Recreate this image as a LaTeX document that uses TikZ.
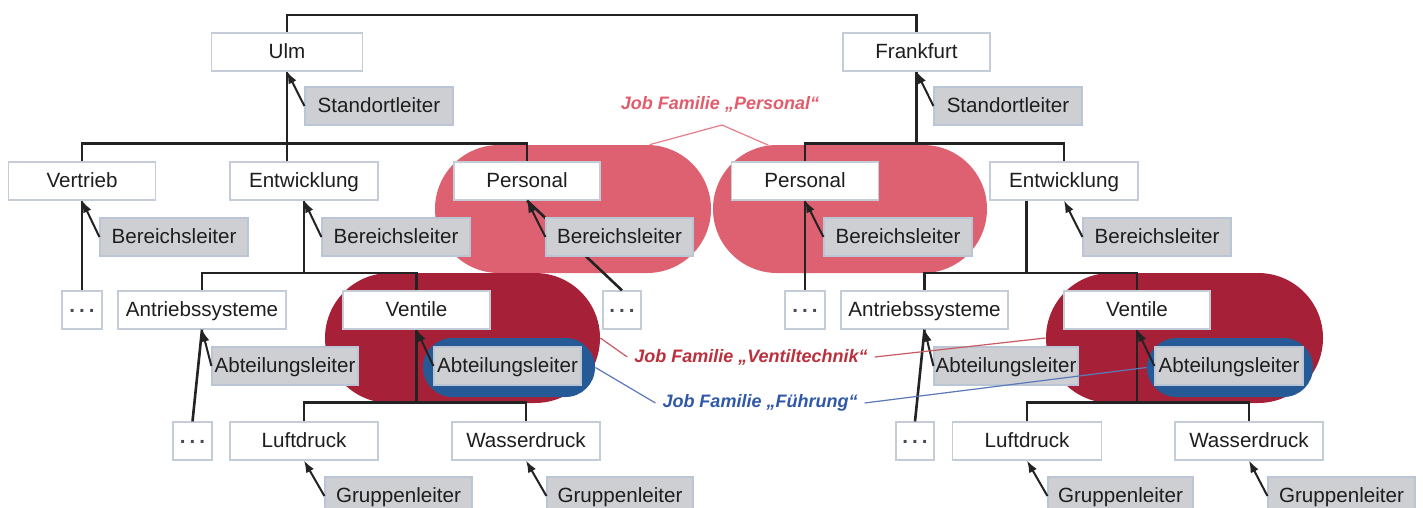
\documentclass[tikz,border=0pt]{standalone}
\usepackage{fontspec}
\setmainfont{Liberation Sans}
\usetikzlibrary{calc,arrows.meta,shapes.misc}
\newcommand\unitfont{\fontsize{10.3}{12}\selectfont}
\newcommand\famfont{\fontsize{9}{11}\selectfont\bfseries\itshape}
\newcommand\tridots{\raisebox{2pt}{\bfseries .\kern2pt.\kern2pt.}}
\tikzset{
  unit/.style={rectangle,draw=boxline,fill=white,line width=0.6pt,
               minimum width=74pt,minimum height=19pt,inner sep=0pt,
               text height=1.6ex,text depth=0.45ex,
               text=textcol,font=\unitfont},
  role/.style={unit,fill=rolefill,draw=roleline},
  dotbox/.style={unit,minimum width=20pt,text=dotcol}
}

\begin{document}
\begin{tikzpicture}[x=0.5pt,y=-0.5pt]
    % Local styling definitions
    \tikzset{>={Latex[length=6pt,width=4.4pt]}} % set arrow head style

    % Color definitions
    \definecolor{boxline}{RGB}{196,204,216}
    \definecolor{roleline}{RGB}{186,198,214}
    \definecolor{rolefill}{RGB}{206,207,210}
    \definecolor{textcol}{RGB}{30,30,30}
    \definecolor{dotcol}{RGB}{70,75,85}
    \definecolor{linecol}{RGB}{35,35,35}
    \definecolor{persfill}{RGB}{222,97,113}
    \definecolor{ventfill}{RGB}{166,33,55}
    \definecolor{fuehrfill}{RGB}{38,90,150}
    \definecolor{perstext}{RGB}{226,92,108}
    \definecolor{venttext}{RGB}{186,48,60}
    \definecolor{fuehrtext}{RGB}{48,88,168}

    % TikZ style definitions
    \tikzstyle{tree}    =[line width=1.3pt,linecol]
    \tikzstyle{lead}    =[->,line width=1pt,linecol]
    \tikzstyle{famline} =[line width=0.6pt]
    \tikzstyle{famPers} =[rounded rectangle,fill=persfill,inner sep=0pt,minimum height=64pt]
    \tikzstyle{famVent} =[rounded rectangle,fill=ventfill,inner sep=0pt,minimum height=65pt]
    \tikzstyle{famLead} =[rounded rectangle,fill=fuehrfill,inner sep=0pt,minimum height=29.5pt]

    % Drawing definitions
    \def\yA{145}
    \def\yB{273}
    \def\yC{403}
    \useasboundingbox (0,0) rectangle (1423,508);
    \clip (0,0) rectangle (1423,508);
    \fill[white] (0,0) rectangle (1423,508);

    % Job families (background)
    \node[famPers,minimum width=138pt]   (persU)  at (573,209)    {};
    \node[famPers,minimum width=137pt]   (persF)  at (850,209)    {};
    \node[famVent,minimum width=137.5pt] (ventU)  at (462.5,338)  {};
    \node[famVent,minimum width=138.5pt] (ventF)  at (1184.5,338) {};
    \node[famLead,minimum width=86pt]    (fuehrU) at (509,367.5)  {};
    \node[famLead,minimum width=83pt]    (fuehrF) at (1230,367.5) {};

    % Units
    \node[unit,minimum width=75.5pt] (ulm)      at (287,52)    {Ulm};
    \node[unit,minimum width=73.5pt] (ffm)      at (916.5,52)  {Frankfurt};
    \node[unit,minimum width=73.5pt] (vertrieb) at (82,181)    {Vertrieb};
    \node[unit]                      (entwU)    at (304,181)   {Entwicklung};
    \node[unit,minimum width=73pt]   (persUbox) at (527,181)   {Personal};
    \node[unit,minimum width=73.5pt] (persFbox) at (805,181)   {Personal};
    \node[unit]                      (entwF)    at (1064,181)  {Entwicklung};
    \node[dotbox]                    (dotsV)    at (82,310)    {\tridots};
    \node[dotbox,minimum width=19pt] (dotsPU)   at (622,310)   {\tridots};
    \node[dotbox]                    (dotsPF)   at (805,310)   {\tridots};
    \node[unit,minimum width=84pt]   (antrU)    at (202,310)   {Antriebssysteme};
    \node[unit,minimum width=73.5pt] (ventilU)  at (416.5,310) {Ventile};
    \node[unit,minimum width=83.5pt] (antrF)    at (924.5,310) {Antriebssysteme};
    \node[unit,minimum width=73pt]   (ventilF)  at (1137,310)  {Ventile};
    \node[dotbox,minimum width=19.5pt] (dotsAU) at (192.5,441) {\tridots};
    \node[unit]                      (luftU)    at (304,441)   {Luftdruck};
    \node[unit]                      (wassU)    at (526,441)   {Wasserdruck};
    \node[dotbox,minimum width=19pt] (dotsAF)   at (915,441)   {\tridots};
    \node[unit,minimum width=74.5pt] (luftF)    at (1027,441)  {Luftdruck};
    \node[unit]                      (wassF)    at (1249,441)  {Wasserdruck};

    % Tree lines
    \draw[tree] (ulm.north) -- (ulm.north |- 0,15) -| (ffm.north);
    \draw[tree] (ulm.south) -- (ulm.south |- entwU.north);
    \draw[tree] (vertrieb.north) -- ++(0,-18) -| (persUbox.north);
    \draw[tree] (ffm.south) -- (ffm.south |- 0,\yA);
    \draw[tree] (persFbox.north) -- ++(0,-18) -| (entwF.north);
    \draw[tree] (vertrieb.south) -- (dotsV.north);
    \draw[tree] (persUbox.south) -- (dotsPU.north);
    \draw[tree] (persFbox.south) -- (dotsPF.north);
    % Ulm: Entwicklung
    \draw[tree] (entwU.south) -- (entwU.south |- 0,\yB);
    \draw[tree] (antrU.north) |- (ventilU.north |- 0,\yB) -- (ventilU.north);
    \draw[tree] (ventilU.south) -- (ventilU.south |- 0,\yC);
    \draw[tree] (luftU.north) -- ++(0,-19) -| (wassU.north);
    \draw[tree] (dotsAU.north) -- (antrU.south);
    % Frankfurt: Entwicklung
    \draw[tree] ($(entwF.south west)+(37,0)$) -- ++(0,73);
    \draw[tree] (antrF.north) |- (ventilF.north |- 0,\yB) -- (ventilF.north);
    \draw[tree] (ventilF.south) -- (ventilF.south |- 0,\yC);
    \draw[tree] (luftF.north) -- ++(0,-19) -| (wassF.north);
    \draw[tree] (dotsAF.north) -- (antrF.south);

    % Roles
    \node[role] (stoU)  at (379,106)    {Standortleiter};
    \node[role] (stoF)  at (1008,106)   {Standortleiter};
    \node[role] (blV)   at (174,237)    {Bereichsleiter};
    \node[role] (blEU)  at (396,237)    {Bereichsleiter};
    \node[role,minimum width=73.5pt] (blPU) at (619.5,237) {Bereichsleiter};
    \node[role] (blPF)  at (898,237)    {Bereichsleiter};
    \node[role] (blEF)  at (1157,237)   {Bereichsleiter};
    \node[role,minimum width=73pt]   (abtAU) at (285,366)   {Abteilungsleiter};
    \node[role,minimum width=73.5pt] (abtVU) at (507.5,366) {Abteilungsleiter};
    \node[role,minimum width=72pt]   (abtAF) at (1006,366)  {Abteilungsleiter};
    \node[role] (abtVF) at (1229,366)   {Abteilungsleiter};
    \node[role,minimum width=73.5pt] (grpLU) at (398.5,496)  {Gruppenleiter};
    \node[role,minimum width=73pt]   (grpWU) at (620,496)    {Gruppenleiter};
    \node[role,minimum width=72.5pt] (grpLF) at (1120.5,496) {Gruppenleiter};
    \node[role,minimum width=73.5pt] (grpWF) at (1341.5,496) {Gruppenleiter};

    % Role arrows
    \draw[lead] (stoU.west)  -- (ulm.south);
    \draw[lead] (stoF.west)  -- (ffm.south);
    \draw[lead] (blV.west)   -- (vertrieb.south);
    \draw[lead] (blEU.west)  -- (entwU.south);
    \draw[lead] (blPU.west)  -- (persUbox.south);
    \draw[lead] (blPF.west)  -- (persFbox.south);
    \draw[lead] (blEF.west)  -- (entwF.south);
    \draw[lead] (abtAU.west) -- (antrU.south);
    \draw[lead] (abtVU.west) -- (ventilU.south);
    \draw[lead] (abtAF.west) -- (antrF.south);
    \draw[lead] (abtVF.west) -- (ventilF.south);
    \draw[lead] (grpLU.west) -- (luftU.south);
    \draw[lead] (grpWU.west) -- (wassU.south);
    \draw[lead] (grpLF.west) -- (luftF.south);
    \draw[lead] (grpWF.west) -- (wassF.south);

    % Job family labels
    \node[text=perstext,font=\famfont]  (lblPers)  at (720,104) {Job Familie „Personal“};
    \node[text=venttext,font=\famfont]  (lblVent)  at (751,357) {Job Familie „Ventiltechnik“};
    \node[text=fuehrtext,font=\famfont] (lblFuehr) at (760,403) {Job Familie „Führung“};
    \coordinate (apexPers) at (722,125);
    \draw[famline,perstext!80] (persU.40) -- (apexPers) -- (persF.142);
    \draw[famline,venttext!80] (lblVent.west) -- (ventU.east);
    \draw[famline,venttext!80] (lblVent.east) -- (ventF.west);
    \draw[famline,fuehrtext!80] (lblFuehr.west) -- (fuehrU.east);
    \draw[famline,fuehrtext!80] (lblFuehr.east) -- (fuehrF.west);

\end{tikzpicture}
\end{document}
